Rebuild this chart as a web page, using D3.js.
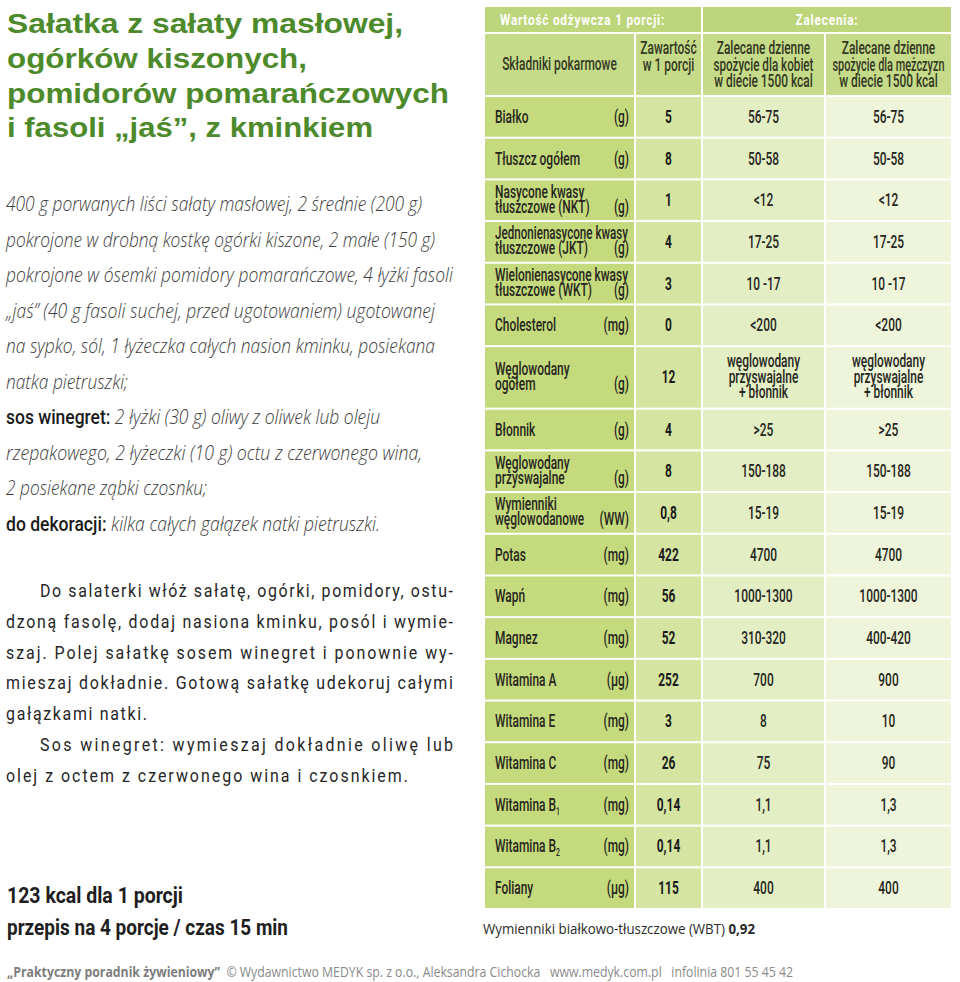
<!DOCTYPE html>
<html><head><meta charset="utf-8">
<script src="https://cdn.jsdelivr.net/npm/d3@7"></script>
<style>body{margin:0;background:#fff} svg{display:block} text{white-space:pre}</style>
</head><body><svg id="c" width="960" height="982"></svg>
<script>
// ---------- DATA ----------
const titleLines = ["Sałatka z sałaty masłowej,","ogórków kiszonych,","pomidorów pomarańczowych","i fasoli „jaś”, z kminkiem"];
const ingredientLines = [
 [["400 g porwanych liści sałaty masłowej, 2 średnie (200 g)",0]],
 [["pokrojone w drobną kostkę ogórki kiszone, 2 małe (150 g)",0]],
 [["pokrojone w ósemki pomidory pomarańczowe, 4 łyżki fasoli",0]],
 [["„jaś” (40 g fasoli suchej, przed ugotowaniem) ugotowanej",0]],
 [["na sypko, sól, 1 łyżeczka całych nasion kminku, posiekana",0]],
 [["natka pietruszki;",0]],
 [["sos winegret:",1],[" 2 łyżki (30 g) oliwy z oliwek lub oleju",0]],
 [["rzepakowego, 2 łyżeczki (10 g) octu z czerwonego wina,",0]],
 [["2 posiekane ząbki czosnku;",0]],
 [["do dekoracji:",1],[" kilka całych gałązek natki pietruszki.",0]]
];
const instructionLines = ["Do salaterki włóż sałatę, ogórki, pomidory, ostu-","dzoną fasolę, dodaj nasiona kminku, posól i wymie-","szaj. Polej sałatkę sosem winegret i ponownie wy-","mieszaj dokładnie. Gotową sałatkę udekoruj całymi","gałązkami natki.","Sos winegret: wymieszaj dokładnie oliwę lub","olej z octem z czerwonego wina i czosnkiem."];
const summaryLines = ["123 kcal dla 1 porcji","przepis na 4 porcje / czas 15 min"];
const footerBold = "„Praktyczny poradnik żywieniowy”";
const footerRest = "  © Wydawnictwo MEDYK sp. z o.o., Aleksandra Cichocka   www.medyk.com.pl   infolinia 801 55 45 42";
const wbtLabel = "Wymienniki białkowo-tłuszczowe (WBT) ";
const wbtValue = "0,92";

const groupHeaders = ["Wartość odżywcza 1 porcji:","Zalecenia:"];
const columnHeaders = [["Składniki pokarmowe"],["Zawartość","w 1 porcji"],["Zalecane dzienne","spożycie dla kobiet","w diecie 1500 kcal"],["Zalecane dzienne","spożycie dla mężczyzn","w diecie 1500 kcal"]];
const nutrients = ["Białko","Tłuszcz ogółem","Nasycone kwasy|tłuszczowe (NKT)","Jednonienasycone kwasy|tłuszczowe (JKT)","Wielonienasycone kwasy|tłuszczowe (WKT)","Cholesterol","Węglowodany|ogółem","Błonnik","Węglowodany|przyswajalne","Wymienniki|węglowodanowe","Potas","Wapń","Magnez","Witamina A","Witamina E","Witamina C","Witamina B_1","Witamina B_2","Foliany"];
const units = ["(g)","(g)","(g)","(g)","(g)","(mg)","(g)","(g)","(g)","(WW)","(mg)","(mg)","(mg)","(µg)","(mg)","(mg)","(mg)","(mg)","(µg)"];
const perPortion = ["5","8","1","4","3","0","12","4","8","0,8","422","56","52","252","3","26","0,14","0,14","115"];
const womenRec = ["56-75","50-58","<12","17-25","10 -17","<200","węglowodany|przyswajalne|+ błonnik",">25","150-188","15-19","4700","1000-1300","310-320","700","8","75","1,1","1,1","400"];
const menRec = ["56-75","50-58","<12","17-25","10 -17","<200","węglowodany|przyswajalne|+ błonnik",">25","150-188","15-19","4700","1000-1300","400-420","900","10","90","1,3","1,3","400"];

// ---------- LAYOUT ----------
const titleEnds = [403,307,449,373];
const ingredientEnds = [422,435,453,435,435,128,380,422,207,380];
const instructionEnds = [453,453,453,453,147,453,408];
const instructionIndent = [1,0,0,0,0,1,0];
const summaryEnds = [183,288];

const narrow = "Roboto,'Liberation Sans',sans-serif";
const svg = d3.select("#c");
const FS = 17.5;

// condense factor calibrated on a short label ("Cholesterol" ≈ 60px wide)
const probe = svg.append("text").style("font-family",narrow).style("font-size",FS+"px").style("font-weight",500).text("Cholesterol");
const K = 61/probe.node().getComputedTextLength();
probe.remove();
function cond(sel, maxW){ sel.each(function(){ const L=this.getComputedTextLength(); let w=L*K; if(maxW && w>maxW) w=maxW; d3.select(this).attr("textLength",w).attr("lengthAdjust","spacingAndGlyphs"); }); }

// Title
svg.append("g").selectAll("text").data(titleLines).join("text")
 .attr("x",7).attr("y",(d,i)=>33+i*34.8)
 .attr("textLength",(d,i)=>titleEnds[i]-7).attr("lengthAdjust","spacingAndGlyphs")
 .style("font-family","'Liberation Sans',Arial,sans-serif").style("font-weight",700).style("font-size","28.5px")
 .attr("fill","#4d8a2b").text(d=>d);

// Ingredients
const ing = svg.append("g").selectAll("text").data(ingredientLines).join("text")
 .attr("x",6).attr("y",(d,i)=>211+i*35.5)
 .attr("textLength",(d,i)=>ingredientEnds[i]-6).attr("lengthAdjust","spacingAndGlyphs")
 .style("font-family","'Open Sans',sans-serif").style("font-size","20px");
ing.selectAll("tspan").data(d=>d).join("tspan")
 .text(d=>d[0])
 .style("font-style",d=>d[1]?"normal":"italic")
 .style("font-weight",d=>d[1]?500:300)
 .style("font-family",d=>d[1]?narrow:"'Open Sans',sans-serif")
 .attr("fill",d=>d[1]?"#1a1a1a":"#3d3d3d");

// Instructions (narrow glyphs, justified by letter spacing)
const sx = 0.84;
svg.append("g").attr("transform",`scale(${sx},1)`).selectAll("text").data(instructionLines).join("text")
 .attr("x",(d,i)=>(instructionIndent[i]?40:6)/sx).attr("y",(d,i)=>597+i*30.8)
 .attr("textLength",(d,i)=>(instructionEnds[i]-(instructionIndent[i]?40:6))/sx).attr("lengthAdjust","spacing")
 .style("font-family",narrow).style("font-size","19px").attr("fill","#262626").text(d=>d);

// Summary
svg.append("g").selectAll("text").data(summaryLines).join("text")
 .attr("x",7).attr("y",(d,i)=>903+i*32)
 .attr("textLength",(d,i)=>summaryEnds[i]-7).attr("lengthAdjust","spacingAndGlyphs")
 .style("font-family",narrow).style("font-weight",700).style("font-size","22px").attr("fill","#1e1e1e").text(d=>d);

// Footer
const ft = svg.append("text").attr("x",7).attr("y",977).attr("textLength",786).attr("lengthAdjust","spacingAndGlyphs")
 .style("font-family","'Open Sans',sans-serif").style("font-size","14px");
ft.append("tspan").text(footerBold).style("font-weight",700).attr("fill","#7d7d7d");
ft.append("tspan").text(footerRest).attr("fill","#8a8a8a");

// WBT
const wb = svg.append("text").attr("x",483).attr("y",934).attr("textLength",272).attr("lengthAdjust","spacingAndGlyphs")
 .style("font-family","'Open Sans',sans-serif").style("font-size","14.5px").attr("fill","#2a2a2a");
wb.append("tspan").text(wbtLabel);
wb.append("tspan").text(wbtValue).style("font-weight",700);

// ---------- TABLE ----------
const x = d3.scaleLinear().domain([0,1,2,3,4]).range([484,635,702,825,952]);
const rowUnits = womenRec.map(d=>d.split("|").length>1?1.5:1);
const ends = d3.cumsum(rowUnits);
const y = d3.scaleLinear().domain([0,d3.sum(rowUnits)]).range([96,909]);
const rows = nutrients.map((n,i)=>({label:n.split("|"),unit:units[i],val:perPortion[i],w:womenRec[i].split("|"),m:menRec[i].split("|"),y0:y(ends[i]-rowUnits[i]),y1:y(ends[i])}));
const colFill = ["#c5da7c","#d5e5a1","#e4eec5","#eef5da"];
const hdrTop=7, hdrMid=33, hdrBot=96;
const tg = svg.append("g");

// header group row
tg.selectAll("rect.g").data([[0,2],[2,4]]).join("rect").attr("class","g")
 .attr("x",d=>x(d[0])+1).attr("width",d=>x(d[1])-x(d[0])-2).attr("y",hdrTop).attr("height",hdrMid-hdrTop-1).attr("fill","#bed67b");
tg.append("text").attr("x",500).attr("y",25).attr("textLength",165).attr("lengthAdjust","spacingAndGlyphs")
 .style("font-family",narrow).style("font-weight",700).style("font-size","15px").style("letter-spacing","1px").attr("fill","#fff").text(groupHeaders[0]);
tg.append("text").attr("x",(x(2)+x(4))/2).attr("y",25).attr("text-anchor","middle").attr("textLength",63).attr("lengthAdjust","spacingAndGlyphs")
 .style("font-family",narrow).style("font-weight",700).style("font-size","15px").style("letter-spacing","1px").attr("fill","#fff").text(groupHeaders[1]);

// column headers
tg.selectAll("rect.h").data(columnHeaders).join("rect").attr("class","h")
 .attr("x",(d,i)=>x(i)+1).attr("width",(d,i)=>x(i+1)-x(i)-2).attr("y",hdrMid+1).attr("height",hdrBot-hdrMid-2).attr("fill","#c6db89");
columnHeaders.forEach((lines,ci)=>{
  const base = lines.length===1?70:54;
  tg.selectAll(null).data(lines).join("text")
   .attr("x",(x(ci)+x(ci+1))/2).attr("y",(d,k)=>base+k*16.5).attr("text-anchor","middle")
   .style("font-family",narrow).style("font-size",FS+"px").style("font-weight",500).attr("fill","#323822").text(d=>d)
   .call(cond,[117,62,100,112][ci]);
});

// body cells
const rg = tg.selectAll("g.row").data(rows).join("g").attr("class","row");
[0,1,2,3].forEach(ci=>{
  rg.append("rect").attr("x",x(ci)+1).attr("width",x(ci+1)-x(ci)-2)
   .attr("y",d=>d.y0+1).attr("height",d=>d.y1-d.y0-2).attr("fill",colFill[ci]);
});
const txt = (g)=>g.style("font-family",narrow).style("font-size",FS+"px").style("font-weight",500).attr("fill","#262620");
rg.each(function(d){
  const g=d3.select(this), c=(d.y0+d.y1)/2;
  const lb = k=> d.label.length===1? c+6 : c-2.5+k*15;
  const u = g.append("text").attr("x",x(1)-6).attr("y",lb(d.label.length-1)).attr("text-anchor","end").call(txt).text(d.unit).call(cond);
  const uw = +u.attr("textLength");
  const t = g.selectAll("text.l").data(d.label).join("text").attr("class","l").attr("x",x(0)+11).attr("y",(s,k)=>lb(k)).call(txt);
  t.each(function(s,k){ const parts=s.split("_"); const e=d3.select(this);
    e.append("tspan").text(parts[0]);
    if(parts[1]) e.append("tspan").text(parts[1]).style("font-size","10px").attr("dy",4);
    const maxW = k===d.label.length-1 ? (x(1)-6-uw-6)-(x(0)+11) : 133;
    e.call(cond,maxW);
  });
  g.append("text").attr("x",(x(1)+x(2))/2).attr("y",c+6).attr("text-anchor","middle").call(txt).style("font-weight",700).attr("fill","#1a1a1a").text(d.val).call(cond);
  [[d.w,2],[d.m,3]].forEach(([lines,ci])=>{
    const b = k=> lines.length===1? c+6 : c-10+k*15.5;
    g.selectAll(null).data(lines).join("text").attr("x",(x(ci)+x(ci+1))/2).attr("y",(s,k)=>b(k)).attr("text-anchor","middle").call(txt).text(s=>s).call(cond,x(ci+1)-x(ci)-10);
  });
});
</script></body></html>
